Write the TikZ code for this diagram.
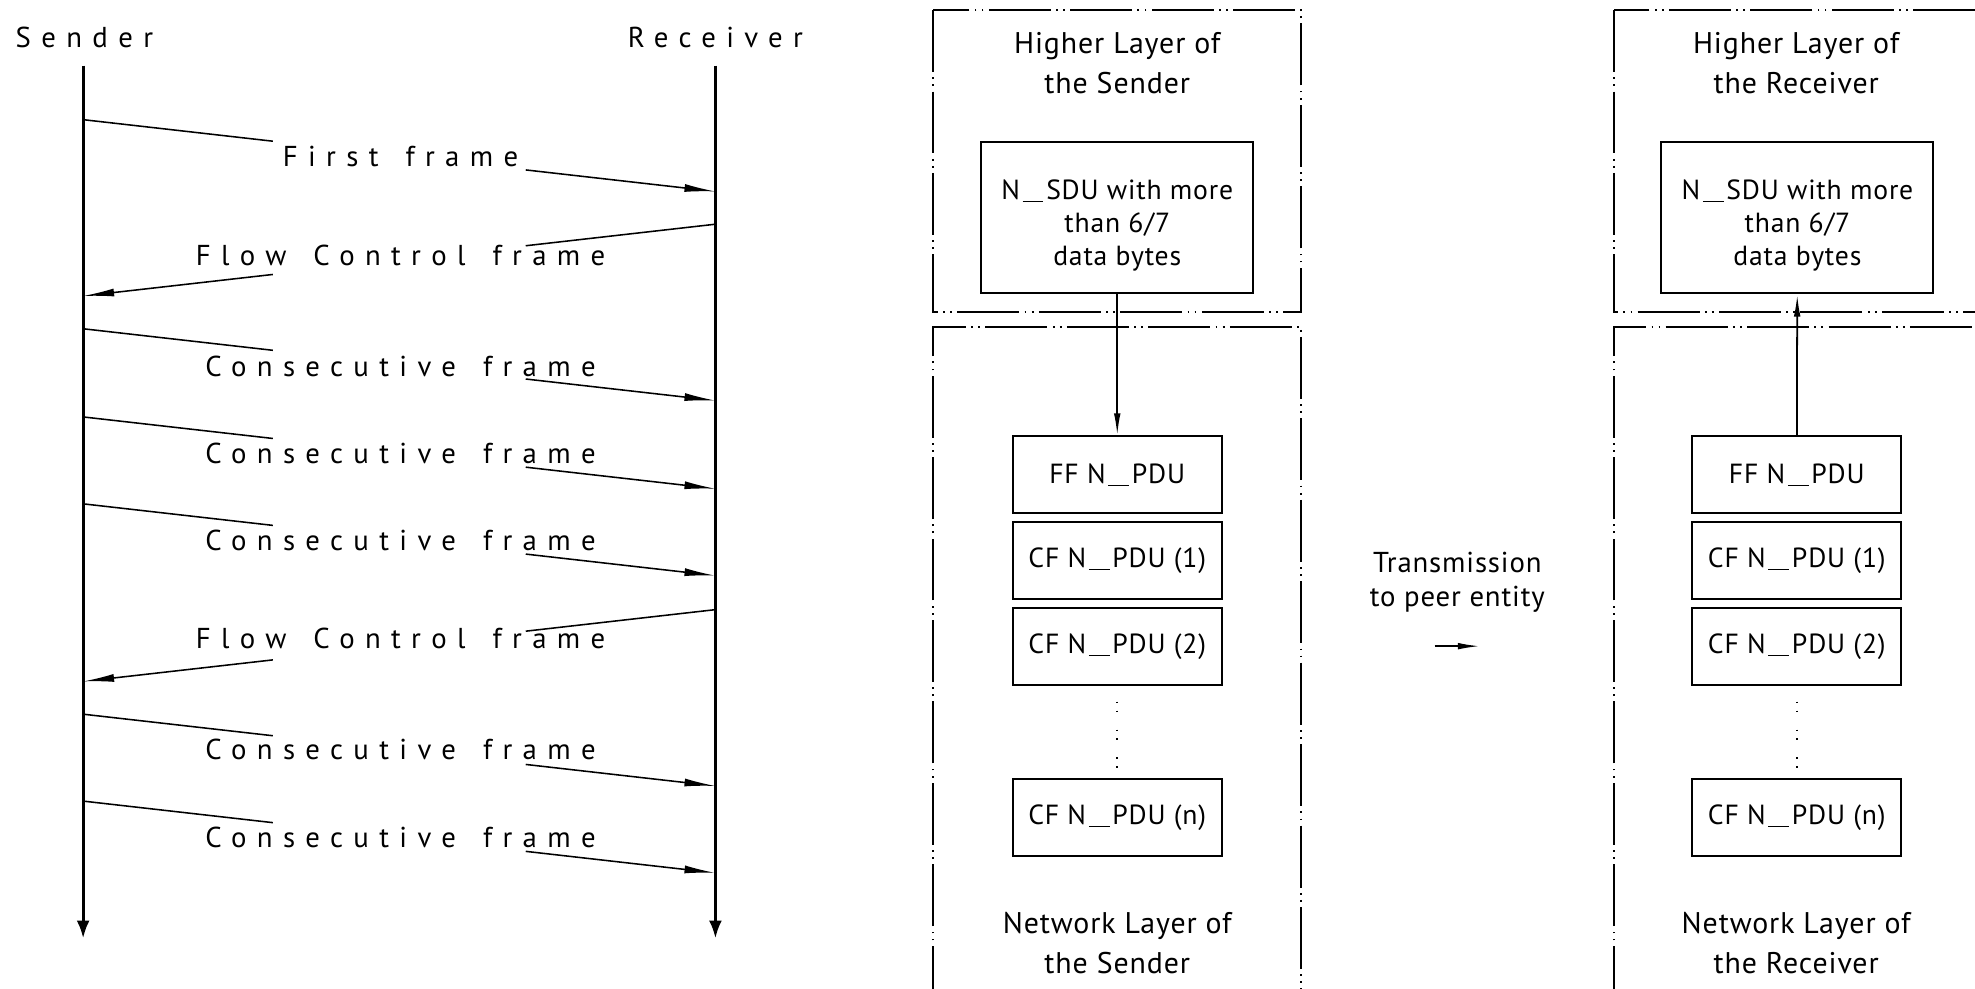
\documentclass[tikz,border=0pt]{standalone}
\usepackage{fontspec}
\setmainfont[LetterSpace=3]{PT Sans}
\newfontfamily\seqfont[LetterSpace=36,WordSpace=1.5]{PT Sans}
\newcommand{\usc}{\kern0.1em\rule[-0.2ex]{0.75em}{0.45pt}\kern0.1em}
\usetikzlibrary{arrows.meta,calc}

\begin{document}
\begin{tikzpicture}[x=0.02cm, y=-0.02cm,
        lbl/.style={font=\seqfont\fontsize{13}{15}\selectfont},
        txt/.style={font=\fontsize{13.5}{18}\selectfont, align=center},
        pdu/.style={draw, line width=0.9pt, minimum width=3.32cm, minimum height=1.22cm, font=\fontsize{12.5}{15}\selectfont},
        sdu/.style={pdu, minimum width=4.32cm, minimum height=2.4cm, align=center},
        layer/.style={line width=0.9pt, dash pattern=on 28pt off 2.4pt on 0.8pt off 2.4pt on 0.8pt off 2.4pt},
        life/.style={line width=1.35pt, -{Latex[length=8pt,width=5.8pt]}},
        msg/.style={line width=0.7pt, -{Latex[length=14pt,width=3.6pt]}},
        flow/.style={line width=0.8pt, -{Latex[length=10pt,width=3pt]}},
        gap/.style={line width=0.9pt, dash pattern=on 0.8pt off 3.2pt on 0.8pt off 7.8pt}]
        \useasboundingbox (0,0) rectangle (1568,785);
        \clip (0,0) rectangle (1568,785);

        \node[lbl] (snd) at (67,30) {Sender};
        \node[lbl] (rcv) at (568,30) {Receiver};
        \coordinate (s0) at (66,52);
        \coordinate (s1) at (66,745);
        \coordinate (r0) at (568,52);
        \coordinate (r1) at (568,745);
        \draw[life] (s0) -- (s1);
        \draw[life] (r0) -- (r1);

        \foreach \xa/\ya/\xb/\yb/\yl/\txt [count=\i] in {
            66/95/568/152/124.5/First frame,
            568/178/66/235/202.5/Flow Control frame,
            66/261/568/318/291/Consecutive frame,
            66/331/568/388/360/Consecutive frame,
            66/400/568/457/429/Consecutive frame,
            568/484/66/541/507/Flow Control frame,
            66/567/568/624/595/Consecutive frame,
            66/636/568/693/665/Consecutive frame} {
            \coordinate (a\i) at (\xa,\ya);
            \coordinate (b\i) at (\xb,\yb);
            \node[lbl] (m\i) at (318,\yl) {\txt};
            \draw[msg] (a\i) -- ($(a\i)!.3!(b\i)$) ($(a\i)!.7!(b\i)$) -- (b\i);
        }

        \draw[layer] (741,8) rectangle (1033,247.5);
        \draw[layer] (741,800) -- (741,259.5) -- (1033,259.5) -- (1033,800);
        \node[txt] (hs) at (887,50) {Higher Layer of\\the Sender};
        \node[sdu] (sdus) at (887,173) {\rule{0pt}{16pt}N\usc SDU with more\\than 6/7\\data bytes};
        \node[pdu] (ffs) at (887,377) {FF N\usc PDU};
        \node[pdu] (cf1s) at (887,445) {CF N\usc PDU (1)};
        \node[pdu] (cf2s) at (887,513.5) {CF N\usc PDU (2)};
        \node[pdu] (cfns) at (887,649) {CF N\usc PDU (n)};
        \node[txt] (ns) at (887,749) {Network Layer of\\the Sender};
        \draw[flow] (sdus) -- (ffs);
        \draw[gap, shorten <=7pt, shorten >=4pt] (cf2s) -- (cfns);

        \node[txt, font=\fontsize{13}{15.4}\selectfont] (tr) at (1157,462.5) {Transmission\\to peer entity};
        \coordinate (t0) at (1139,513);
        \coordinate (t1) at (1175,513);
        \draw[flow] (t0) -- (t1);

        \draw[layer] (1281,8) rectangle (1573,247.5);
        \draw[layer] (1281,800) -- (1281,259.5) -- (1573,259.5) -- (1573,800);
        \node[txt] (hr) at (1426,50) {Higher Layer of\\the Receiver};
        \node[sdu] (sdur) at (1427,173) {\rule{0pt}{16pt}N\usc SDU with more\\than 6/7\\data bytes};
        \node[pdu] (ffr) at (1426.5,377) {FF N\usc PDU};
        \node[pdu] (cf1r) at (1426.5,445) {CF N\usc PDU (1)};
        \node[pdu] (cf2r) at (1426.5,513.5) {CF N\usc PDU (2)};
        \node[pdu] (cfnr) at (1426.5,649) {CF N\usc PDU (n)};
        \node[txt] (nr) at (1426,749) {Network Layer of\\the Receiver};
        \draw[flow] (ffr) -- (sdur);
        \draw[gap, shorten <=7pt, shorten >=4pt] (cf2r) -- (cfnr);
    \end{tikzpicture}
\end{document}
